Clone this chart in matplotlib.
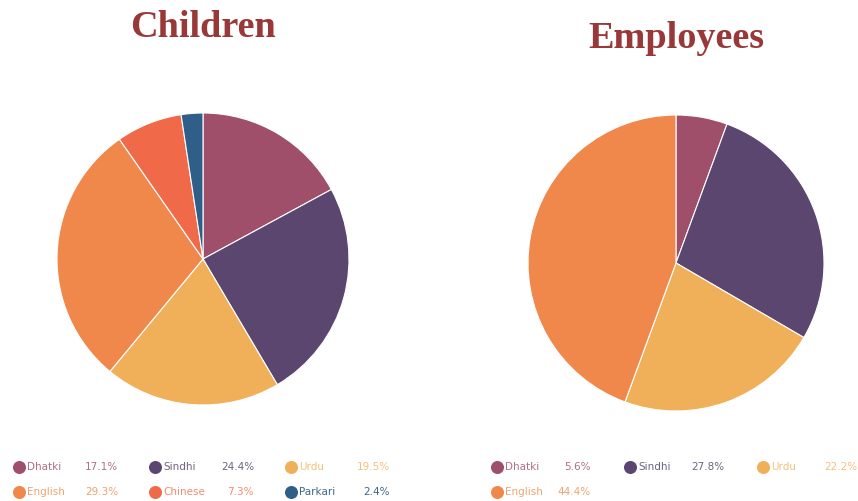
import numpy as np
import matplotlib.pyplot as plt

languages_children = ['Dhatki', 'Sindhi', 'Urdu', 'English', 'Chinese', 'Parkari']
share_children = [17.1, 24.4, 19.5, 29.3, 7.3, 2.4]

languages_employees = ['Dhatki', 'Sindhi', 'Urdu', 'English']
share_employees = [5.6, 27.8, 22.2, 44.4]

colours = {'Dhatki': '#a04f6a', 'Sindhi': '#5b4670', 'Urdu': '#f0b05a',
           'English': '#f0884b', 'Chinese': '#f06a4a', 'Parkari': '#2f5f88'}
text_colours = {'Dhatki': '#b07088', 'Sindhi': '#6e6480', 'Urdu': '#f2c27a',
                'English': '#eea470', 'Chinese': '#f08c70', 'Parkari': '#3e6688'}

W, H = 858, 501
fig = plt.figure(figsize=(W / 100, H / 100), dpi=100)

def px_axes(cx, cy, r):
    return fig.add_axes([(cx - r) / W, 1 - (cy + r) / H, 2 * r / W, 2 * r / H])

def draw_pie(cx, cy, r, names, vals):
    ax = px_axes(cx, cy, r)
    ax.pie(vals, colors=[colours[n] for n in names], startangle=90, counterclock=False,
           radius=1, wedgeprops=dict(edgecolor='white', linewidth=0.8))
    ax.set_xlim(-1, 1)
    ax.set_ylim(-1, 1)
    ax.set_aspect('equal')
    ax.axis('off')

draw_pie(203, 259, 146, languages_children, share_children)
draw_pie(676, 263, 148, languages_employees, share_employees)

# overlay in pixel coordinates for titles and legends
ov = fig.add_axes([0, 0, 1, 1])
ov.set_xlim(0, W)
ov.set_ylim(H, 0)
ov.axis('off')

title_kw = dict(ha='center', va='center', color='#993838', fontsize=27.5,
                fontweight='bold', family='Liberation Serif')
ov.text(203, 27, 'Children', **title_kw)
ov.text(676, 38, 'Employees', **title_kw)

def draw_legend(names, vals, x0, col_w, val_off):
    for i, (n, v) in enumerate(zip(names, vals)):
        row, col = divmod(i, 3)
        x = x0 + col * col_w
        y = 467 + row * 25
        ov.scatter([x], [y], s=70, color=colours[n], zorder=3)
        ov.text(x + 8, y, n, ha='left', va='center', fontsize=7.5, color=text_colours[n])
        ov.text(x + val_off, y, f'{v}%', ha='right', va='center', fontsize=7.5,
                color=text_colours[n])

draw_legend(languages_children, share_children, 19, 136, 99)
draw_legend(languages_employees, share_employees, 497, 133, 94)

fig.savefig('out.png', dpi=100)
